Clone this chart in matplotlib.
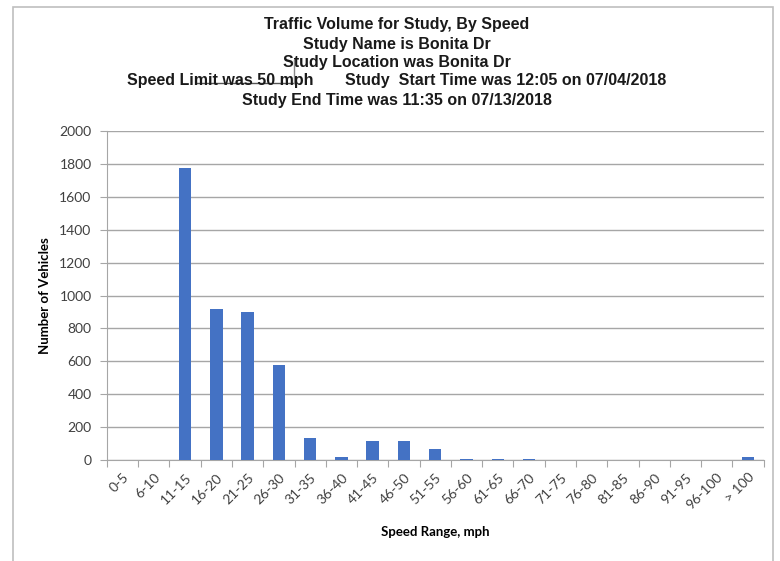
import numpy as np
import matplotlib.pyplot as plt
from matplotlib.patches import Rectangle
from matplotlib.lines import Line2D

speed_ranges = ['0-5', '6-10', '11-15', '16-20', '21-25', '26-30', '31-35', '36-40',
                '41-45', '46-50', '51-55', '56-60', '61-65', '66-70', '71-75', '76-80',
                '81-85', '86-90', '91-95', '96-100', '> 100']
vehicles = [0, 0, 1775, 918, 900, 580, 134, 20, 115, 115, 67, 9, 8, 8, 0, 0, 0, 0, 0, 0, 20]
y_ticks = [0, 200, 400, 600, 800, 1000, 1200, 1400, 1600, 1800, 2000]

title_lines = ['Traffic Volume for Study, By Speed',
               'Study Name is Bonita Dr',
               'Study Location was Bonita Dr',
               'Speed Limit was 50 mph       Study  Start Time was 12:05 on 07/04/2018',
               'Study End Time was 11:35 on 07/13/2018']

title_font = ['Liberation Sans', 'DejaVu Sans']
tick_font = ['Lato', 'DejaVu Sans']

fig = plt.figure(figsize=(7.8, 5.61), dpi=100)
ax = fig.add_axes([0.137, 0.18, 0.842, 0.5865])

x = np.arange(len(speed_ranges))
ax.bar(x, vehicles, width=0.4, color='#4472C4', zorder=3)

ax.set_xlim(-0.5, len(speed_ranges) - 0.5)
ax.set_ylim(0, 2000)
ax.set_yticks(y_ticks)
ax.set_yticklabels([str(v) for v in y_ticks], fontsize=10, family=tick_font, color='#404040')
ax.set_xticks(np.arange(len(speed_ranges) + 1) - 0.5, minor=False)
ax.set_xticklabels([])
ax.set_xticks(x, minor=True)
ax.set_xticklabels(speed_ranges, minor=True, rotation=45, ha='right',
                   rotation_mode='anchor', fontsize=10, family=tick_font, color='#404040')
ax.tick_params(axis='x', which='major', length=5, color='#A6A6A6', direction='out')
ax.tick_params(axis='x', which='minor', length=0, pad=8)
ax.tick_params(axis='y', length=5, color='#A6A6A6', pad=6)

ax.grid(axis='y', color='#A6A6A6', linewidth=1, zorder=0)
for side in ['top', 'right']:
    ax.spines[side].set_visible(False)
ax.spines['left'].set_color('#A6A6A6')
ax.spines['bottom'].set_color('#A6A6A6')

ax.set_ylabel('Number of Vehicles', fontsize=9.5, fontweight='bold', family=tick_font, labelpad=6)
ax.set_xlabel('Speed Range, mph', fontsize=9.5, fontweight='bold', family=tick_font, labelpad=10)

ys = [25, 44, 63, 81, 101]
for line, yp in zip(title_lines, ys):
    fig.text(397 / 780, 1 - yp / 561, line, ha='center', va='center',
             fontsize=11.5, fontweight='bold', family=title_font, color='#1a1a1a')

# stray marks across the title, as in the source image
fig.add_artist(Line2D([197 / 780, 294 / 780], [1 - 83 / 561, 1 - 83 / 561],
                      color='#555555', linewidth=1))
fig.add_artist(Line2D([294 / 780, 294 / 780], [1 - 60 / 561, 1 - 83 / 561],
                      color='#888888', linewidth=1))

# outer frame
fig.add_artist(Rectangle((13 / 780, -0.05), 760 / 780, 1.05 - 7 / 561,
                         transform=fig.transFigure, fill=False,
                         edgecolor='#BFBFBF', linewidth=1.2))

fig.savefig('out.png', dpi=100)
